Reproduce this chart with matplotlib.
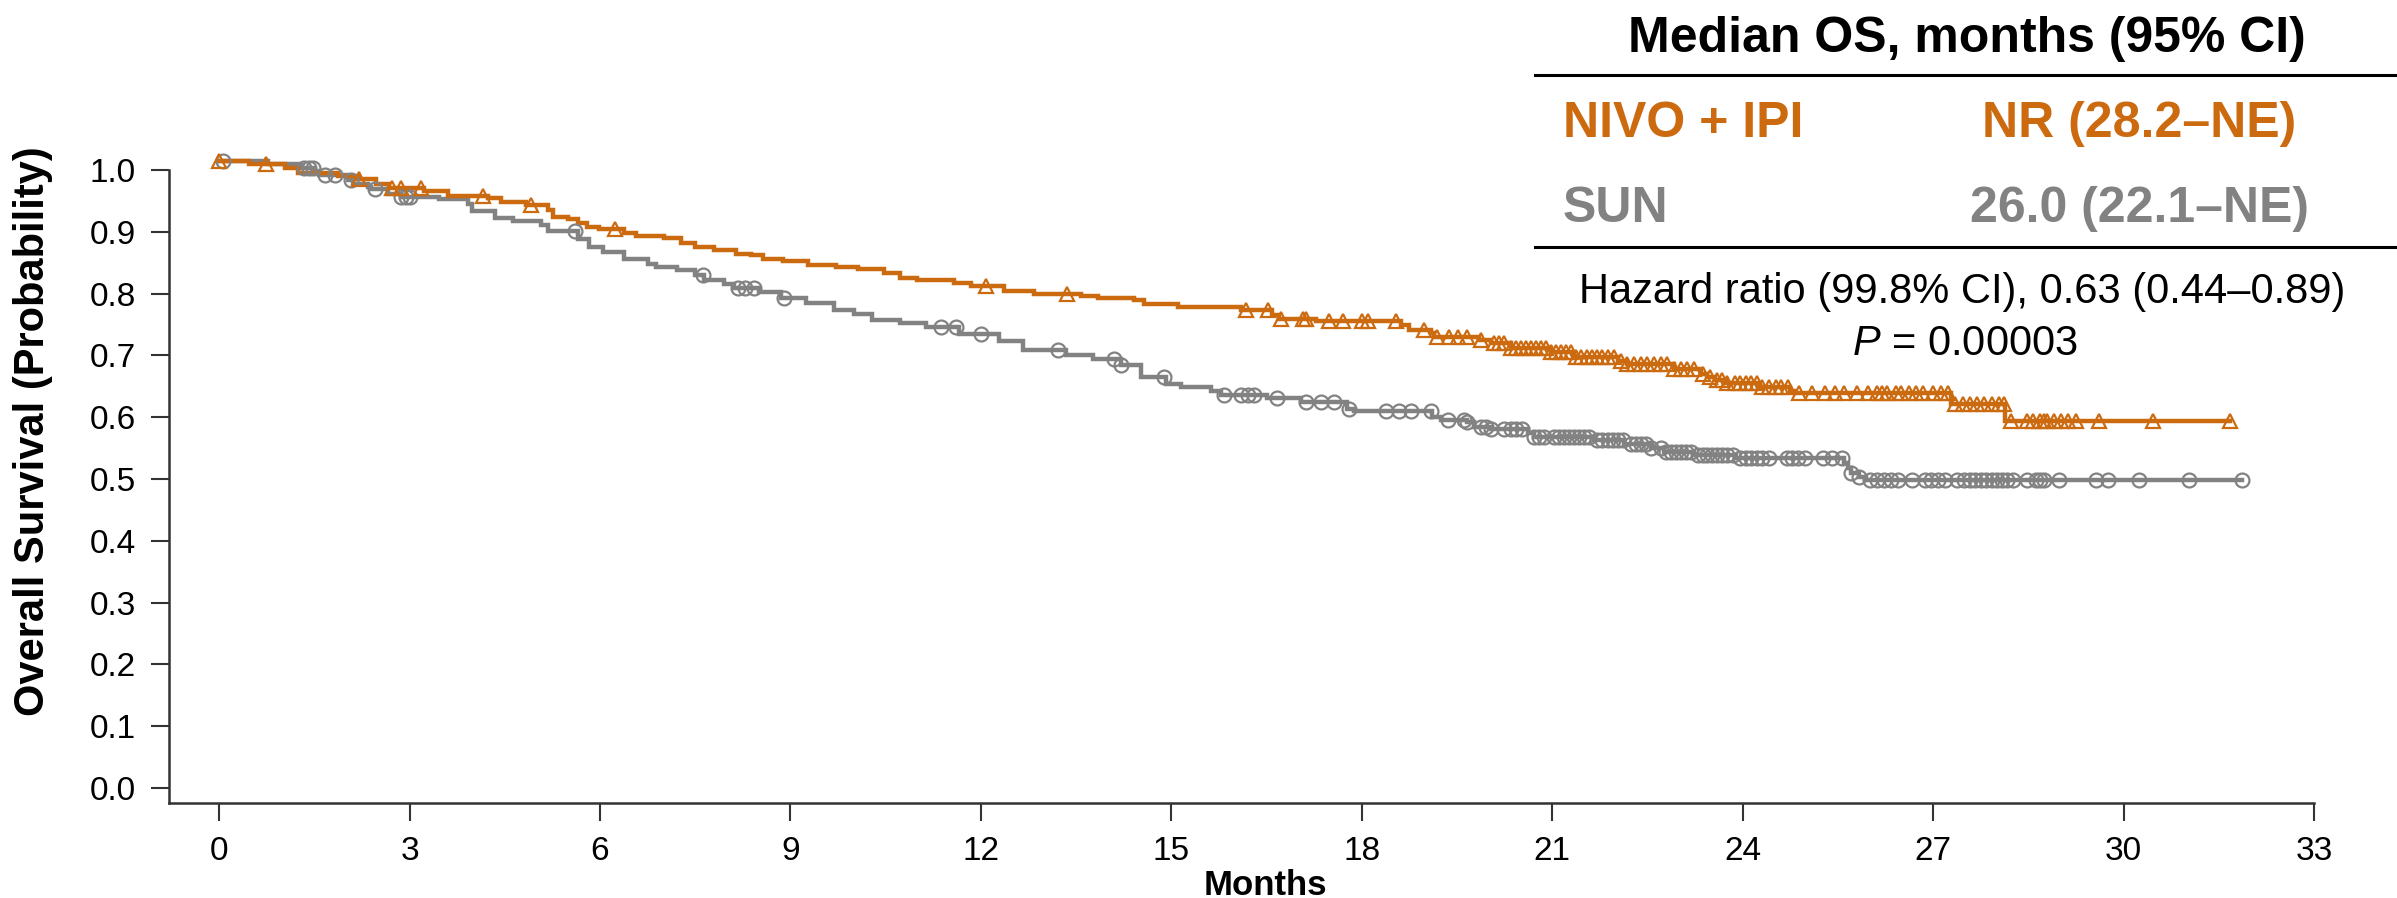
import numpy as np
import matplotlib
matplotlib.use("Agg")
import matplotlib.pyplot as plt
from matplotlib import transforms
from matplotlib.lines import Line2D

plt.rcParams['font.family'] = ['Liberation Sans', 'DejaVu Sans']
plt.rcParams['mathtext.fontset'] = 'custom'
plt.rcParams['mathtext.rm'] = 'Liberation Sans'
plt.rcParams['mathtext.it'] = 'Liberation Sans:italic'

ORANGE = '#CC6A10'
GREY = '#828282'

#KM step points (months, survival) for NIVO + IPI
nivo_t = [0, 0.47, 1.03, 1.24, 1.87, 2.18, 2.47, 2.68, 3.23, 3.60, 4.23, 4.44, 4.83,
          5.18, 5.26, 5.49, 5.65, 5.80, 5.99, 6.38, 6.57, 7.01, 7.28, 7.49, 7.80,
          8.14, 8.38, 8.56, 8.88, 9.27, 9.72, 10.06, 10.48, 10.72, 11.00, 11.58,
          11.84, 12.37, 12.84, 13.57, 13.84, 14.41, 14.57, 15.10, 16.09, 16.59,
          16.69, 17.28, 18.61, 18.74, 19.09, 19.14, 19.84, 20.03, 20.35, 20.98,
          21.34, 22.03, 22.18, 22.92, 23.34, 23.44, 23.56, 23.73, 24.24, 24.75,
          24.81, 27.28, 28.13]
nivo_s = [1.0, 0.995, 0.988, 0.980, 0.976, 0.970, 0.962, 0.956, 0.951, 0.943, 0.940,
          0.933, 0.929, 0.921, 0.910, 0.906, 0.900, 0.893, 0.890, 0.883, 0.878,
          0.875, 0.868, 0.860, 0.856, 0.850, 0.848, 0.842, 0.838, 0.832, 0.829,
          0.825, 0.819, 0.810, 0.807, 0.803, 0.798, 0.790, 0.785, 0.782, 0.779,
          0.775, 0.769, 0.763, 0.758, 0.751, 0.745, 0.741, 0.735, 0.727, 0.721,
          0.715, 0.710, 0.705, 0.697, 0.691, 0.683, 0.677, 0.672, 0.664, 0.656,
          0.650, 0.646, 0.640, 0.634, 0.628, 0.624, 0.606, 0.579]
nivo_cens = [0.0, 0.74, 2.21, 2.73, 2.87, 3.18, 4.15, 4.91, 6.23, 12.08, 13.36,
             16.17, 16.52, 16.73, 17.07, 17.12, 17.49, 17.70, 18.01, 18.09, 18.54,
             18.98, 19.19, 19.38, 19.51, 19.66, 19.87, 20.08, 20.16, 20.24, 20.35,
             20.43, 20.50, 20.58, 20.66, 20.74, 20.82, 20.90, 20.98, 21.06, 21.13,
             21.21, 21.29, 21.37, 21.45, 21.55, 21.63, 21.71, 21.79, 21.87, 21.97,
             22.08, 22.18, 22.29, 22.39, 22.50, 22.60, 22.71, 22.81, 22.92, 23.02,
             23.13, 23.23, 23.37, 23.48, 23.59, 23.68, 23.76, 23.88, 23.96, 24.05,
             24.13, 24.22, 24.30, 24.41, 24.53, 24.61, 24.72, 24.89, 25.09, 25.29,
             25.46, 25.60, 25.80, 25.97, 26.11, 26.19, 26.28, 26.42, 26.50, 26.62,
             26.73, 26.84, 26.99, 27.13, 27.24, 27.35, 27.47, 27.58, 27.69, 27.80,
             27.92, 28.03, 28.12, 28.23, 28.48, 28.57, 28.68, 28.74, 28.79, 28.91,
             29.02, 29.13, 29.25, 29.61, 30.46, 31.68]

#KM step points for SUN
sun_t = [0, 0.77, 1.29, 1.50, 1.58, 2.03, 2.11, 2.34, 2.39, 2.66, 2.87, 3.47, 3.92,
         3.99, 4.34, 4.63, 5.07, 5.18, 5.65, 5.83, 6.04, 6.38, 6.75, 6.88, 7.22,
         7.49, 7.64, 7.96, 8.11, 8.51, 8.85, 9.24, 9.69, 10.00, 10.29, 10.72, 11.13,
         11.66, 12.29, 12.66, 13.34, 13.76, 14.20, 14.52, 14.91, 15.15, 15.62, 15.78,
         16.51, 17.04, 17.77, 17.87, 19.11, 19.24, 19.66, 19.76, 20.03, 20.61, 20.71,
         21.65, 22.13, 22.55, 22.76, 23.23, 23.90, 25.60, 25.66, 25.71, 25.83, 25.94]
sun_s = [1.0, 0.995, 0.988, 0.983, 0.977, 0.969, 0.962, 0.958, 0.954, 0.946, 0.942,
         0.938, 0.931, 0.919, 0.908, 0.903, 0.896, 0.887, 0.873, 0.861, 0.852, 0.842,
         0.834, 0.828, 0.824, 0.816, 0.807, 0.801, 0.795, 0.788, 0.779, 0.770, 0.758,
         0.753, 0.743, 0.738, 0.732, 0.720, 0.709, 0.694, 0.686, 0.679, 0.670, 0.651,
         0.639, 0.634, 0.627, 0.621, 0.617, 0.610, 0.598, 0.596, 0.586, 0.581, 0.577,
         0.570, 0.566, 0.559, 0.554, 0.549, 0.542, 0.535, 0.529, 0.524, 0.519, 0.511,
         0.503, 0.495, 0.489, 0.484]
sun_cens = [0.06, 1.34, 1.42, 1.48, 1.66, 1.82, 2.08, 2.45, 2.87, 2.95, 3.00, 5.60,
            7.62, 8.17, 8.28, 8.43, 8.90, 11.37, 11.61, 12.00, 13.21, 14.10, 14.20,
            14.89, 15.83, 16.09, 16.20, 16.30, 16.67, 17.12, 17.35, 17.56, 17.80,
            18.38, 18.59, 18.77, 19.09, 19.35, 19.61, 19.66, 19.87, 19.95, 20.03,
            20.24, 20.35, 20.43, 20.53, 20.71, 20.79, 20.87, 21.03, 21.11, 21.19,
            21.27, 21.34, 21.42, 21.50, 21.58, 21.71, 21.79, 21.87, 21.95, 22.03,
            22.11, 22.24, 22.32, 22.39, 22.47, 22.55, 22.71, 22.79, 22.87, 22.95,
            23.02, 23.10, 23.18, 23.29, 23.37, 23.44, 23.51, 23.59, 23.68, 23.76,
            23.85, 23.96, 24.05, 24.13, 24.22, 24.30, 24.41, 24.70, 24.78, 24.87,
            24.98, 25.26, 25.40, 25.57, 25.71, 25.83, 26.00, 26.11, 26.22, 26.33,
            26.45, 26.67, 26.87, 26.96, 27.07, 27.18, 27.38, 27.49, 27.58, 27.66,
            27.75, 27.83, 27.92, 28.00, 28.09, 28.17, 28.26, 28.48, 28.62, 28.68,
            28.74, 28.99, 29.56, 29.76, 30.24, 31.03, 31.87]

x_ticks = list(range(0, 34, 3))
y_ticks = [round(0.1 * i, 1) for i in range(11)]


def step_value(times, surv, at):
    idx = np.searchsorted(times, at, side='right') - 1
    return np.asarray(surv)[np.clip(idx, 0, None)]


fig = plt.figure(figsize=(23.97, 8.98), dpi=100)
ax = fig.add_axes([0.0705, 0.106, 0.8949, 0.7323])
ax.set_xlim(-0.79, 33)
ax.set_ylim(-0.024, 1.04)

# curves sit a few pixels above the tick grid
shifted = transforms.offset_copy(ax.transData, fig=fig, x=0, y=9, units='dots')

for t, s, cens, col, mk in [(sun_t, sun_s, sun_cens, GREY, 'o'),
                            (nivo_t, nivo_s, nivo_cens, ORANGE, '^')]:
    tt = list(t) + [max(cens)]
    ss = list(s) + [s[-1]]
    ax.step(tt, ss, where='post', color=col, lw=3.2, transform=shifted,
            solid_joinstyle='miter', zorder=3)
    ax.plot(cens, step_value(t, s, cens), linestyle='none', marker=mk,
            mfc='none', mec=col, ms=10, mew=1.6, transform=shifted, zorder=4)

for side in ['top', 'right']:
    ax.spines[side].set_visible(False)
ax.spines['left'].set_bounds(ax.get_ylim()[0], 1.0)
for side in ['left', 'bottom']:
    ax.spines[side].set_linewidth(1.8)
    ax.spines[side].set_color('#333333')

ax.set_xticks(x_ticks)
ax.set_yticks(y_ticks)
ax.set_yticklabels(['%.1f' % v for v in y_ticks])
ax.tick_params(axis='both', direction='out', length=13, width=1.5,
               color='#333333', labelsize=24, pad=11)

fig.text(0.0138, 0.52, 'Overall Survival (Probability)', rotation=90,
         ha='center', va='center', fontsize=30, fontweight='bold')
fig.text(0.5278, 0.0033, 'Months', ha='center', va='baseline',
         fontsize=25, fontweight='bold')

# median OS table
fig.text(0.8206, 0.9424, 'Median OS, months (95% CI)', ha='center', va='baseline',
         fontsize=36, fontweight='bold')
fig.add_artist(Line2D([0.6404, 1.0], [0.9165, 0.9165], color='black', lw=2.2))
fig.text(0.652, 0.8478, 'NIVO + IPI', ha='left', va='baseline', fontsize=36,
         fontweight='bold', color=ORANGE)
fig.text(0.8924, 0.8478, 'NR (28.2–NE)', ha='center', va='baseline', fontsize=36,
         fontweight='bold', color=ORANGE)
fig.text(0.652, 0.7531, 'SUN', ha='left', va='baseline', fontsize=36,
         fontweight='bold', color=GREY)
fig.text(0.8924, 0.7531, '26.0 (22.1–NE)', ha='center', va='baseline', fontsize=36,
         fontweight='bold', color=GREY)
fig.add_artist(Line2D([0.6404, 1.0], [0.7246, 0.7246], color='black', lw=2.2))
fig.text(0.8185, 0.6623, 'Hazard ratio (99.8% CI), 0.63 (0.44–0.89)', ha='center',
         va='baseline', fontsize=30)
fig.text(0.8198, 0.6047, r'$\mathit{P}$ = 0.00003', ha='center', va='baseline',
         fontsize=30)

fig.savefig('out.png', dpi=100)
